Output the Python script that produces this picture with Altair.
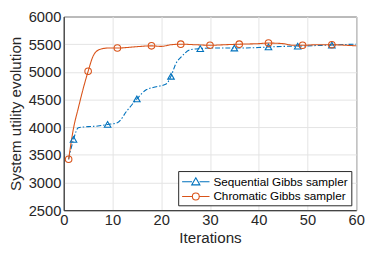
import altair as alt
import pandas as pd

# Sequential Gibbs sampler (dense line)
seq_x = [1, 2, 3, 5, 7, 9, 11, 13, 15, 17, 19, 21, 22, 23, 24, 26, 28, 30, 35, 40, 42, 45, 48, 50, 55, 58, 60]
seq_y = [3420, 3780, 3990, 4010, 4020, 4050, 4080, 4300, 4510, 4680, 4730, 4780, 4920, 5150, 5260, 5400, 5420, 5430, 5430, 5440, 5450, 5460, 5465, 5470, 5485, 5495, 5500]
seq_marker_x = [2, 9, 15, 22, 28, 35, 42, 48, 55]
seq_marker_y = [3780, 4050, 4510, 4920, 5420, 5430, 5450, 5465, 5485]

# Chromatic Gibbs sampler (dense line)
chr_x = [1, 2, 3, 4, 5, 6, 7, 8, 9, 11, 13, 15, 18, 20, 22, 24, 27, 30, 33, 36, 40, 42, 45, 47, 49, 52, 55, 58, 60]
chr_y = [3420, 3980, 4350, 4700, 5010, 5280, 5390, 5420, 5430, 5430, 5440, 5455, 5470, 5460, 5490, 5500, 5490, 5480, 5490, 5500, 5510, 5520, 5510, 5480, 5480, 5490, 5490, 5480, 5470]
chr_marker_x = [1, 5, 11, 18, 24, 30, 36, 42, 49, 55]
chr_marker_y = [3420, 5010, 5430, 5470, 5500, 5480, 5500, 5520, 5480, 5490]

series_names = ["Sequential Gibbs sampler", "Chromatic Gibbs sampler"]
colors = ["#0072BD", "#D95319"]

lines = pd.DataFrame(
    [{"x": x, "y": y, "s": series_names[0]} for x, y in zip(seq_x, seq_y)]
    + [{"x": x, "y": y, "s": series_names[1]} for x, y in zip(chr_x, chr_y)]
)
markers = pd.DataFrame(
    [{"x": x, "y": y, "s": series_names[0]} for x, y in zip(seq_marker_x, seq_marker_y)]
    + [{"x": x, "y": y, "s": series_names[1]} for x, y in zip(chr_marker_x, chr_marker_y)]
)

FONT = "Liberation Sans"
TXT = "#262626"

xenc = alt.X("x:Q", scale=alt.Scale(domain=[0, 60], nice=False),
             axis=alt.Axis(title="Iterations", values=[0, 10, 20, 30, 40, 50, 60], format="d"))
yenc = alt.Y("y:Q", scale=alt.Scale(domain=[2500, 6000], nice=False),
             axis=alt.Axis(title="System utility evolution",
                           values=[2500, 3000, 3500, 4000, 4500, 5000, 5500, 6000], format="d"))

def cscale():
    return alt.Scale(domain=series_names, range=colors)

line_layer = alt.Chart(lines).mark_line(strokeWidth=1.1, interpolate="monotone").encode(
    x=xenc, y=yenc,
    color=alt.Color("s:N", scale=cscale(), legend=None),
    strokeDash=alt.StrokeDash("s:N", scale=alt.Scale(domain=series_names, range=[[5, 2, 1.5, 2], [1, 0]]), legend=None),
    detail="s:N",
)

marker_layer = alt.Chart(markers).mark_point(filled=False, strokeWidth=1.1, size=45, opacity=1).encode(
    x=xenc, y=yenc,
    color=alt.Color("s:N", scale=cscale(), legend=None),
    shape=alt.Shape("s:N", scale=alt.Scale(domain=series_names, range=["triangle-up", "circle"]), legend=None),
)

tri_path = "M-2,0H-0.55 M0.55,0H2 M0,-0.6L0.6,0.45H-0.6Z"
circ_path = "M-2,0H-0.5 M0.5,0H2 M-0.5,0a0.5,0.5 0 1,0 1,0a0.5,0.5 0 1,0 -1,0"

leg = alt.Legend(title=None, orient="bottom-right", offset=5,
                 fillColor="white", strokeColor=TXT, padding=3,
                 labelFont=FONT, labelFontSize=12, labelColor="black",
                 symbolSize=196, symbolStrokeWidth=1.1, rowPadding=1,
                 symbolOffset=7, labelOffset=10,
                 symbolFillColor="transparent", symbolOpacity=1)

legend_layer = alt.Chart(markers).mark_point(filled=False, strokeWidth=1.1, opacity=0).encode(
    x=xenc, y=yenc,
    color=alt.Color("s:N", scale=cscale(), legend=leg),
    shape=alt.Shape("s:N", scale=alt.Scale(domain=series_names, range=[tri_path, circ_path]), legend=leg),
)

chart = alt.layer(line_layer, marker_layer, legend_layer).resolve_scale(
    shape="independent", color="independent", strokeDash="independent"
).properties(
    width=299, height=198,
    autosize=alt.AutoSizeParams(type="none"),
    padding={"left": 57, "top": 6, "right": 10, "bottom": 38},
).configure_view(stroke=TXT, strokeWidth=1).configure_axis(
    labelFont=FONT, titleFont=FONT, labelFontSize=15, titleFontSize=15.5,
    labelColor=TXT, titleColor=TXT, titleFontWeight="normal",
    domainColor=TXT, grid=True, gridColor="#e3e3e3", ticks=False, labelPadding=3,
).configure_axisX(titlePadding=3, labelFlush=False).configure_axisY(titlePadding=5)

chart.save("out.html", embed_options={"renderer": "svg", "actions": False})
